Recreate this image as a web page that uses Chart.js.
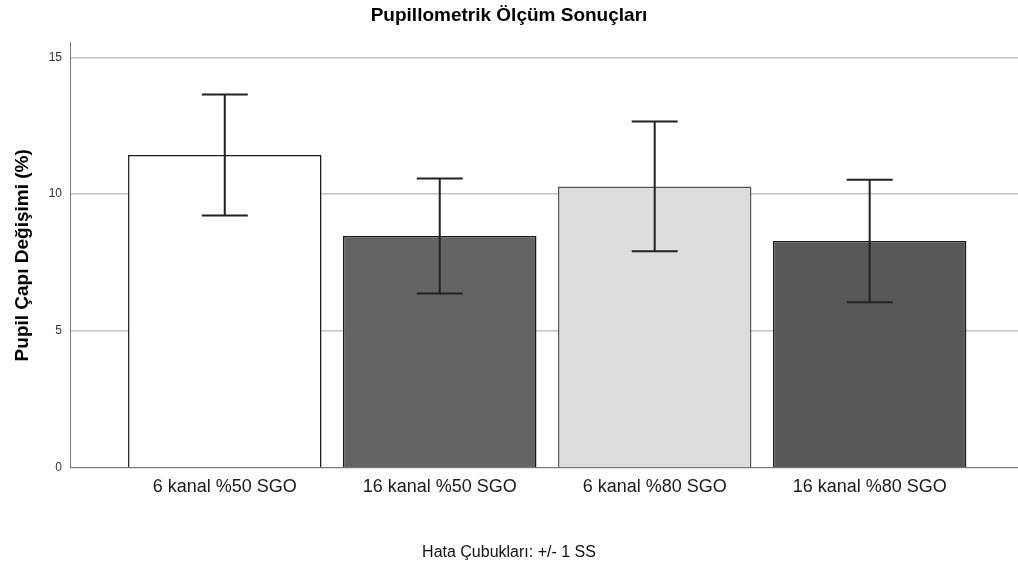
<!DOCTYPE html>
<html>
<head>
<meta charset="utf-8">
<script src="https://cdn.jsdelivr.net/npm/chart.js@4/dist/chart.umd.min.js"></script>
<style>
  body { margin: 0; background: #fff; }
  #wrap { width: 1018px; height: 567px; }
</style>
</head>
<body>
<div id="wrap"><canvas id="chart" width="1018" height="567"></canvas></div>
<script>
// values
let categories = ['6 kanal %50 SGO', '16 kanal %50 SGO', '6 kanal %80 SGO', '16 kanal %80 SGO'];
let means = [11.43, 8.47, 10.28, 8.29];
let sds = [2.21, 2.10, 2.37, 2.24];
let yTicks = [0, 5, 10, 15];

const FONT = "'Liberation Sans', Arial, sans-serif";

function makePattern(base, dot, size, dots) {
    let c = document.createElement('canvas');
    c.width = size; c.height = size;
    let g = c.getContext('2d');
    g.fillStyle = base;
    g.fillRect(0, 0, size, size);
    g.fillStyle = dot;
    dots.forEach(d => g.fillRect(d[0], d[1], 1, 1));
    return g.createPattern(c, 'repeat');
}

let ctx = document.getElementById('chart').getContext('2d');

let fills = [
    '#ffffff',
    '#646464',
    makePattern('#dcdcdc', '#ececec', 8, [[1, 1], [5, 5]]),
    makePattern('#5a5a5a', '#525252', 4, [[0, 0], [2, 1], [1, 2], [3, 3], [0, 3]])
];
let borders = ['#1a1a1a', '#1a1a1a', '#555555', '#1a1a1a'];

const errorBars = {
    id: 'errorBars',
    afterDatasetsDraw(chart) {
        let xs = chart.scales.x, ys = chart.scales.y;
        let c = chart.ctx;
        c.save();
        c.strokeStyle = '#222';
        c.lineWidth = 2;
        means.forEach((m, i) => {
            let x = xs.getPixelForValue(i);
            let top = ys.getPixelForValue(m + sds[i]);
            let bot = ys.getPixelForValue(m - sds[i]);
            c.beginPath();
            c.moveTo(x, top); c.lineTo(x, bot);
            c.moveTo(x - 23, top); c.lineTo(x + 23, top);
            c.moveTo(x - 23, bot); c.lineTo(x + 23, bot);
            c.stroke();
        });
        c.restore();
    }
};

let chart = new Chart(ctx, {
    type: 'bar',
    data: {
        datasets: [{
            data: means.map((v, i) => ({x: i, y: v})),
            backgroundColor: fills,
            borderColor: borders,
            borderWidth: 1.5,
            barPercentage: 0.9,
            categoryPercentage: 1
        }]
    },
    options: {
        responsive: false,
        animation: false,
        layout: { padding: 0 },
        plugins: {
            legend: { display: false },
            tooltip: { enabled: false },
            title: {
                display: true,
                text: 'Pupillometrik Ölçüm Sonuçları',
                color: '#000',
                font: { family: FONT, size: 19, weight: 'bold' },
                padding: { top: 4, bottom: 16 }
            },
            subtitle: {
                display: true,
                position: 'bottom',
                text: 'Hata Çubukları: +/- 1 SS',
                color: '#111',
                font: { family: FONT, size: 16 },
                padding: { top: 0, bottom: 5 }
            }
        },
        scales: {
            x: {
                type: 'linear',
                min: -0.72,
                max: 3.69,
                offset: false,
                afterBuildTicks: s => { s.ticks = categories.map((_, i) => ({value: i})); },
                afterFit: s => { s.height = 75; },
                grid: { display: false, drawTicks: false, offset: false },
                border: { color: '#777', width: 1 },
                ticks: {
                    autoSkip: false,
                    maxRotation: 0,
                    padding: 8,
                    color: '#1a1a1a',
                    font: { family: FONT, size: 18 },
                    callback: v => categories[v]
                }
            },
            y: {
                min: 0,
                max: 15.53,
                afterBuildTicks: s => { s.ticks = yTicks.map(v => ({value: v})); },
                afterFit: s => { s.width = 70; },
                grid: { color: '#c4c4c4', lineWidth: 1.5, drawTicks: false },
                border: { color: '#777', width: 1 },
                ticks: {
                    padding: 8,
                    color: '#333',
                    font: { family: FONT, size: 12 }
                },
                title: {
                    display: true,
                    text: 'Pupil Çapı Değişimi (%)',
                    color: '#000',
                    font: { family: FONT, size: 19, weight: 'bold' },
                    padding: { top: 11, bottom: 0 }
                }
            }
        }
    },
    plugins: [errorBars]
});
</script>
</body>
</html>
